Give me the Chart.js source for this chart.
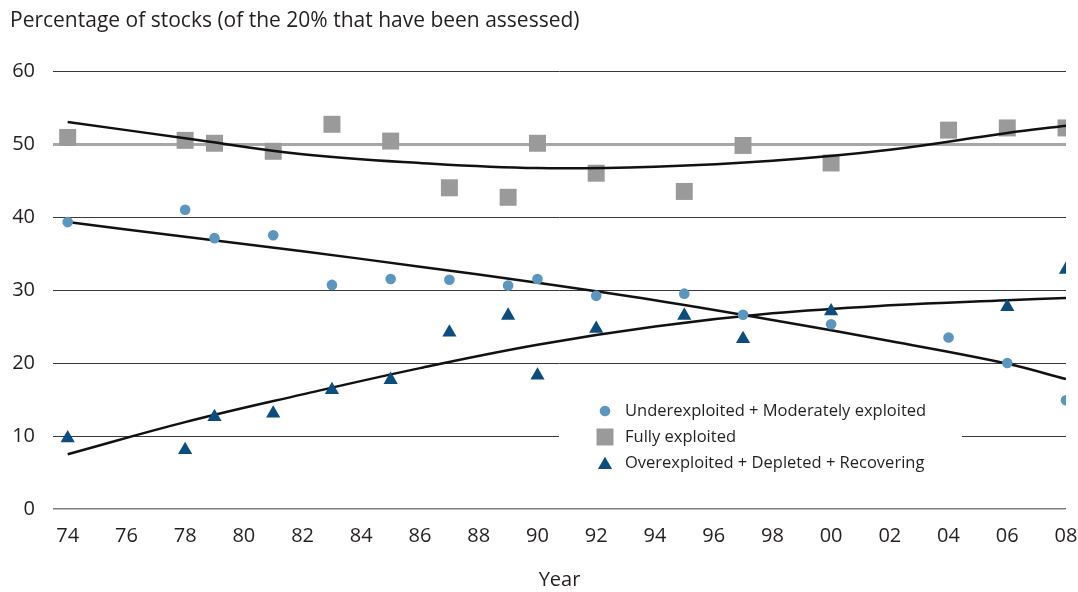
<!DOCTYPE html>
<html>
<head>
<meta charset="utf-8">
<script src="https://cdn.jsdelivr.net/npm/chart.js@4/dist/chart.umd.min.js"></script>
<style>
    html, body { margin: 0; padding: 0; background: #fff; }
    #wrap { width: 1078px; height: 592px; }
</style>
</head>
<body>
<div id="wrap"><canvas id="stocksChart" width="1078" height="592"></canvas></div>
<script>
// Years with observations
const yearsUnder = [1974, 1978, 1979, 1981, 1983, 1985, 1987, 1989, 1990, 1992, 1995, 1997, 2000, 2004, 2006, 2008];
const underValues = [39.3, 41.0, 37.1, 37.5, 30.7, 31.5, 31.4, 30.6, 31.5, 29.2, 29.5, 26.6, 25.3, 23.5, 20.0, 14.9];

const yearsFully = [1974, 1978, 1979, 1981, 1983, 1985, 1987, 1989, 1990, 1992, 1995, 1997, 2000, 2004, 2006, 2008];
const fullyValues = [50.9, 50.5, 50.1, 49.0, 52.7, 50.4, 44.0, 42.7, 50.1, 46.0, 43.5, 49.8, 47.4, 51.9, 52.2, 52.2];

const yearsOver = [1974, 1978, 1979, 1981, 1983, 1985, 1987, 1989, 1990, 1992, 1995, 1997, 2000, 2006, 2008];
const overValues = [9.7, 8.1, 12.6, 13.1, 16.3, 17.7, 24.2, 26.5, 18.3, 24.7, 26.5, 23.3, 27.1, 27.7, 32.8];

// Trend lines
const trendYears = [1974, 1978, 1982, 1986, 1990, 1994, 1998, 2002, 2006, 2008];
const underTrend = [39.3, 37.3, 35.3, 33.2, 31.0, 28.6, 25.9, 23.0, 19.9, 17.8];
const fullyTrend = [53.0, 50.8, 48.6, 47.4, 46.7, 46.9, 47.7, 49.2, 51.5, 52.5];
const overTrend = [7.5, 11.9, 15.7, 19.3, 22.5, 25.0, 26.8, 27.9, 28.6, 28.9];

const xTickYears = [1974, 1976, 1978, 1980, 1982, 1984, 1986, 1988, 1990, 1992, 1994, 1996, 1998, 2000, 2002, 2004, 2006, 2008];
const xTickLabels = ['74', '76', '78', '80', '82', '84', '86', '88', '90', '92', '94', '96', '98', '00', '02', '04', '06', '08'];

const seriesNames = ['Underexploited + Moderately exploited', 'Fully exploited', 'Overexploited + Depleted + Recovering'];

const FONT = "'Open Sans', 'Noto Sans', sans-serif";
const TEXT = '#231f20';
const C_UNDER = '#5a96bf';
const C_FULLY = '#9a9a9a';
const C_OVER = '#0b4d7e';

const toPoints = (xs, ys) => xs.map((x, i) => ({ x: x, y: ys[i] }));

function trendSet(xs, ys) {
    return {
        data: toPoints(xs, ys),
        showLine: true,
        borderColor: '#111',
        borderWidth: 2.5,
        pointRadius: 0,
        tension: 0.4,
        fill: false,
        order: 1
    };
}

// Legend drawn inside the plot, on a white box
const boxLegend = {
    id: 'boxLegend',
    afterDatasetsDraw(chart) {
        const ctx = chart.ctx;
        ctx.save();
        ctx.fillStyle = '#fff';
        ctx.fillRect(559, 398, 403, 78);
        const styles = [
            { style: 'circle', radius: 5.3, color: C_UNDER },
            { style: 'rect', radius: 12, color: C_FULLY },
            { style: 'triangle', radius: 8.2, color: C_OVER }
        ];
        const rows = [411, 437, 463];
        ctx.font = '16.5px ' + FONT;
        ctx.textBaseline = 'middle';
        styles.forEach((s, i) => {
            ctx.fillStyle = s.color;
            ctx.strokeStyle = s.color;
            Chart.helpers.drawPoint(ctx, { pointStyle: s.style, radius: s.radius, borderWidth: 0, rotation: 0 }, 605, rows[i] + (s.style === 'triangle' ? 2 : 0));
            ctx.fillStyle = TEXT;
            ctx.fillText(seriesNames[i], 625, rows[i]);
        });
        ctx.restore();
    }
};

const ctx = document.getElementById('stocksChart').getContext('2d');
const chart = new Chart(ctx, {
    type: 'scatter',
    data: {
        datasets: [
            {
                label: seriesNames[0],
                data: toPoints(yearsUnder, underValues),
                pointStyle: 'circle',
                pointRadius: 5.3,
                pointBackgroundColor: C_UNDER,
                pointBorderWidth: 0,
                order: 0
            },
            {
                label: seriesNames[2],
                data: toPoints(yearsOver, overValues),
                pointStyle: 'triangle',
                pointRadius: 8.2,
                pointBackgroundColor: C_OVER,
                pointBorderWidth: 0,
                order: 0
            },
            trendSet(trendYears, underTrend),
            trendSet(trendYears, fullyTrend),
            trendSet(trendYears, overTrend),
            {
                label: seriesNames[1],
                data: toPoints(yearsFully, fullyValues),
                pointStyle: 'rect',
                pointRadius: 12,
                pointBackgroundColor: C_FULLY,
                pointBorderWidth: 0,
                order: 2
            }
        ]
    },
    options: {
        responsive: false,
        devicePixelRatio: 1,
        animation: false,
        layout: {
            padding: { left: 10, right: 2, top: 8, bottom: 0 }
        },
        plugins: {
            legend: { display: false },
            tooltip: { enabled: false },
            title: {
                display: true,
                text: 'Percentage of stocks (of the 20% that have been assessed)',
                align: 'start',
                color: TEXT,
                font: { family: FONT, size: 21, weight: 'normal', lineHeight: 1.2 },
                padding: { top: 0, bottom: 37.8 }
            }
        },
        scales: {
            x: {
                type: 'linear',
                min: 1973.5,
                max: 2008,
                afterBuildTicks: (scale) => {
                    scale.ticks = xTickYears.map(v => ({ value: v }));
                },
                afterFit: (scale) => {
                    scale.height = 83;
                    scale.paddingLeft = 0;
                    scale.paddingRight = 0;
                },
                ticks: {
                    color: TEXT,
                    font: { family: FONT, size: 20, lineHeight: 1.2 },
                    padding: 15,
                    maxRotation: 0,
                    autoSkip: false,
                    callback: (value) => xTickLabels[xTickYears.indexOf(value)]
                },
                grid: { display: false, drawTicks: false },
                border: { display: false },
                title: {
                    display: true,
                    text: 'Year',
                    color: TEXT,
                    font: { family: FONT, size: 20, lineHeight: 1.2 },
                    padding: { top: 0, bottom: 0 }
                }
            },
            y: {
                min: 0,
                max: 60,
                afterFit: (scale) => { scale.width = 43; },
                ticks: {
                    stepSize: 10,
                    color: TEXT,
                    font: { family: FONT, size: 20 },
                    padding: 18
                },
                grid: {
                    drawTicks: false,
                    color: (c) => c.tick.value === 50 ? '#a6a6a6' : (c.tick.value === 0 ? '#7f7f7f' : '#3a3a3a'),
                    lineWidth: (c) => c.tick.value === 50 ? 3 : (c.tick.value === 0 ? 1.5 : 1)
                },
                border: { display: false }
            }
        }
    },
    plugins: [boxLegend]
});
</script>
</body>
</html>
